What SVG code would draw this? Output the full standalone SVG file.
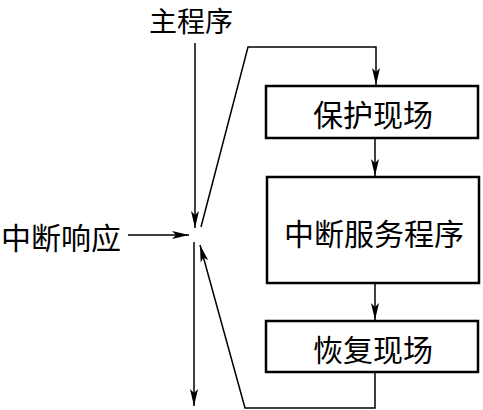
<svg xmlns="http://www.w3.org/2000/svg" width="483" height="410" viewBox="0 0 483 410">
<style>
text{font-family:"Noto Sans CJK SC","Noto Sans CJK JP",sans-serif;font-size:30px;fill:#000;text-anchor:middle;dominant-baseline:central}
.box{fill:#fff;stroke:#000;stroke-width:2.5}
.ln{fill:none;stroke:#000;stroke-width:1.5}
</style>
<defs>
<marker id="ah" markerUnits="userSpaceOnUse" markerWidth="18" markerHeight="8" refX="17" refY="4" orient="auto">
<path d="M0,0 L17,4 L0,8 L4,4 Z" fill="#000"/>
</marker>
</defs>
<g id="label-main"><text x="191" y="20" style="font-size:28px">主程序</text></g>
<g id="label-irq"><text x="61" y="236">中断响应</text></g>
<g id="box1"><rect class="box" x="266" y="86" width="212" height="52"/><text x="373" y="113">保护现场</text></g>
<g id="box2"><rect class="box" x="267" y="177" width="212" height="106"/><text x="374" y="232">中断服务程序</text></g>
<g id="box3"><rect class="box" x="266" y="321" width="212" height="51"/><text x="373" y="348">恢复现场</text></g>
<g id="connectors">
<line class="ln" x1="195" y1="43" x2="195" y2="228" marker-end="url(#ah)"/>
<line class="ln" x1="194" y1="242" x2="194" y2="406" marker-end="url(#ah)"/>
<line class="ln" x1="128" y1="235" x2="189" y2="235" marker-end="url(#ah)"/>
<polyline class="ln" points="201,227 248,47 376,47 376,85" marker-end="url(#ah)"/>
<line class="ln" x1="375" y1="139" x2="375" y2="176" marker-end="url(#ah)"/>
<line class="ln" x1="375" y1="284" x2="375" y2="320" marker-end="url(#ah)"/>
<polyline class="ln" points="375,373 375,408 245,408 200,245" marker-end="url(#ah)"/>
</g>
</svg>
